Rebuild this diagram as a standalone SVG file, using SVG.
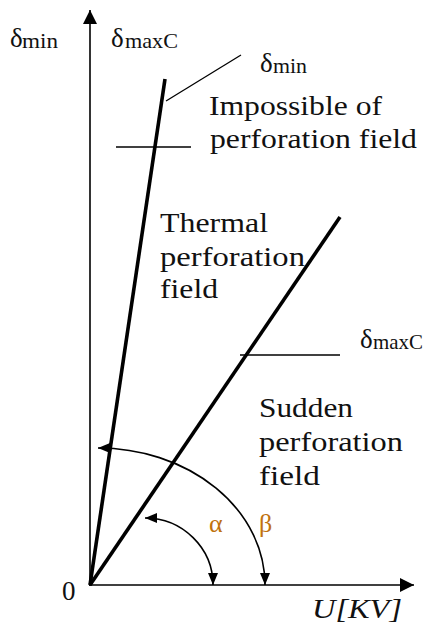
<svg xmlns="http://www.w3.org/2000/svg" width="429" height="625" viewBox="0 0 429 625">
<style>
text{font-family:"Liberation Serif","Times New Roman",serif;fill:#111}
.lbl{font-size:27px}
.sub{font-size:21px}
.greek{fill:#c0720f;font-size:26px}
.axis{stroke:#000;stroke-width:1.6;fill:none}
.bold{stroke:#000;stroke-width:3.6;fill:none;stroke-linecap:butt}
.thin{stroke:#000;stroke-width:1.3;fill:none}
.arc{stroke:#000;stroke-width:1.6;fill:none}
</style>
<defs>
<marker id="ah" viewBox="0 0 14 14" refX="14" refY="7" markerWidth="14" markerHeight="14" markerUnits="userSpaceOnUse" orient="auto-start-reverse">
<path d="M0,0 L14,7 L0,14 Z" fill="#000"/>
</marker>
<marker id="ahs" viewBox="0 0 12 10" refX="12" refY="5" markerWidth="12" markerHeight="10" markerUnits="userSpaceOnUse" orient="auto-start-reverse">
<path d="M0,0 L12,5 L0,10 Z" fill="#000"/>
</marker>
</defs>
<g id="connectors">
<line class="axis" x1="90" y1="586" x2="90" y2="10" marker-end="url(#ah)"/>
<line class="axis" x1="89" y1="585" x2="414" y2="585" marker-end="url(#ah)"/>
<line class="bold" x1="90" y1="585" x2="165" y2="79"/>
<line class="bold" x1="90" y1="585" x2="340" y2="217"/>
<line class="thin" x1="166" y1="101" x2="241" y2="55"/>
<line class="thin" x1="116" y1="147" x2="191" y2="147"/>
<line class="thin" x1="240" y1="355" x2="340" y2="355"/>
<path class="arc" d="M145,518 A68,67 0 0 1 213,585" marker-start="url(#ahs)" marker-end="url(#ahs)"/>
<path class="arc" d="M98,448 A167,137 0 0 1 265,585" marker-start="url(#ahs)" marker-end="url(#ahs)"/>
</g>
<g id="label-dmin-axis">
<text class="lbl" x="10" y="47">δ</text><text class="sub" x="22" y="48" textLength="36" lengthAdjust="spacingAndGlyphs">min</text>
</g>
<g id="label-dmaxc-axis">
<text class="lbl" x="111" y="47">δ</text><text class="sub" x="125" y="48" textLength="53" lengthAdjust="spacingAndGlyphs">maxC</text>
</g>
<g id="label-dmin-line">
<text class="lbl" x="260" y="72">δ</text><text class="sub" x="273" y="73" textLength="34" lengthAdjust="spacingAndGlyphs">min</text>
</g>
<g id="label-dmaxc-line">
<text class="lbl" x="360" y="348">δ</text><text class="sub" x="373" y="349" textLength="50" lengthAdjust="spacingAndGlyphs">maxC</text>
</g>
<g id="impossible-field">
<text class="lbl" x="209" y="115" textLength="173" lengthAdjust="spacingAndGlyphs">Impossible of</text>
<text class="lbl" x="210" y="148" textLength="207" lengthAdjust="spacingAndGlyphs">perforation field</text>
</g>
<g id="thermal-field">
<text class="lbl" x="160" y="232" textLength="108" lengthAdjust="spacingAndGlyphs">Thermal</text>
<text class="lbl" x="160" y="266" textLength="145" lengthAdjust="spacingAndGlyphs">perforation</text>
<text class="lbl" x="160" y="298" textLength="58" lengthAdjust="spacingAndGlyphs">field</text>
</g>
<g id="sudden-field">
<text class="lbl" x="259" y="417" textLength="94" lengthAdjust="spacingAndGlyphs">Sudden</text>
<text class="lbl" x="259" y="451" textLength="144" lengthAdjust="spacingAndGlyphs">perforation</text>
<text class="lbl" x="259" y="485" textLength="61" lengthAdjust="spacingAndGlyphs">field</text>
</g>
<g id="angles">
<text class="greek" x="209" y="532">α</text>
<text class="greek" x="259" y="532">β</text>
</g>
<g id="origin"><text class="lbl" x="62" y="600">0</text></g>
<g id="x-label"><text class="lbl" x="312" y="618" font-style="italic" textLength="90" lengthAdjust="spacingAndGlyphs">U[KV]</text></g>
</svg>
